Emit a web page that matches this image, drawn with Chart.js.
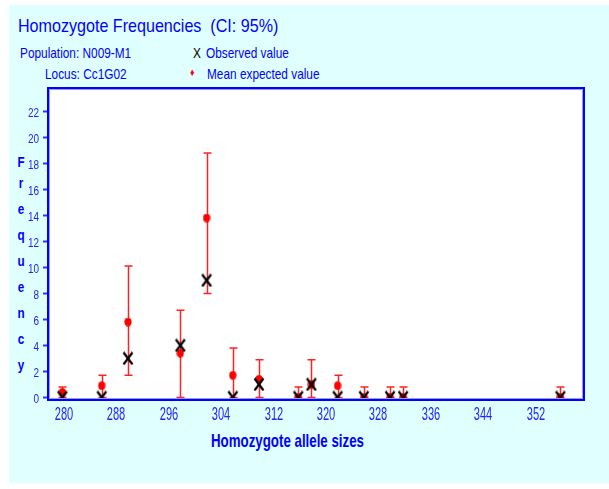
<!DOCTYPE html>
<html>
<head>
<meta charset="utf-8">
<script src="https://cdn.jsdelivr.net/npm/chart.js@4.4.1/dist/chart.umd.min.js"></script>
<style>
  html, body { margin: 0; padding: 0; background: #ffffff; }
  #page { position: relative; width: 609px; height: 489px; overflow: hidden; }
  #bg { position: absolute; left: 9px; top: 5px; right: 0; bottom: 6px; background: #e0ffff; }
  #myChart { position: absolute; left: 0; top: 0; }
  .txt { position: absolute; white-space: nowrap; color: #0000ff; line-height: 1;
         font-family: 'Liberation Sans', Arial, sans-serif; transform-origin: left top; }
  .ttl { left: 18px; top: 18px; font-size: 17.7px; transform: scaleX(0.91); }
  .sub { font-size: 14.8px; transform: scaleX(0.8); }
  .ylab { left: 15px; top: 153px; font-weight: bold; font-size: 15px; text-align: center; width: 12px;
          transform: scaleX(0.78); transform-origin: center top; }
  .ylab span { display: block; line-height: 26px; }
  .ylab span.first { line-height: 17px; }
  .xlab { left: 211px; top: 431px; font-weight: bold; font-size: 19px; transform: scaleX(0.7); }
  .xtick { font-size: 18.5px; width: 40px; text-align: center; transform: scaleX(0.6); transform-origin: center top; color: #2222ff; }
  .ytick { font-size: 13.3px; width: 30px; text-align: right; transform: scaleX(0.75); transform-origin: right top; color: #2222ff; }
</style>
</head>
<body>
<div id="page">
  <div id="bg"></div>
  <div class="txt ttl">Homozygote Frequencies&nbsp; (CI: 95%)</div>
  <div class="txt sub" style="left:20px; top:46px;">Population: N009-M1</div>
  <div class="txt sub" style="left:45px; top:67px;">Locus: Cc1G02</div>
  <div class="txt sub" style="left:193px; top:46px; color:#000;">X</div>
  <div class="txt sub" style="left:206px; top:46px;">Observed value</div>
  <div class="txt sub" style="left:190px; top:67px; color:#ff0000; font-size:11px;">&#9830;</div>
  <div class="txt sub" style="left:207px; top:67px;">Mean expected value</div>
  <div class="txt ylab" id="ylab"></div>
  <div class="txt xlab">Homozygote allele sizes</div>
  <canvas id="myChart" width="609" height="489"></canvas>
</div>
<script>
// allele sizes and values
const alleleSizes = [280, 286, 290, 298, 302, 306, 310, 316, 318, 322, 326, 330, 332, 356];
const observed = [0, 0, 3, 4, 9, 0, 1, 0, 1, 0, 0, 0, 0, 0];
const expected = [0.4, 0.9, 5.8, 3.4, 13.8, 1.7, 1.4, 0, 1.0, 0.9, 0, 0, 0, 0];
const upperCI = [0.8, 1.7, 10.1, 6.7, 18.8, 3.8, 2.9, 0.8, 2.9, 1.7, 0.8, 0.8, 0.8, 0.8];
const lowerCI = [0, 0, 1.7, 0, 8.0, 0, 0, 0, 0, 0, 0, 0, 0, 0];
const xTicks = [280, 288, 296, 304, 312, 320, 328, 336, 344, 352];
const yTicks = [0, 2, 4, 6, 8, 10, 12, 14, 16, 18, 20, 22];
const yTitle = 'Frequency';

const $page = document.getElementById('page');

// stacked letters of the y title
const $ylab = document.getElementById('ylab');
yTitle.split('').forEach((ch, i) => {
    const s = document.createElement('span');
    s.textContent = ch;
    if (i === 0) s.className = 'first';
    $ylab.appendChild(s);
});

function crossMarker() { // black X, a bit taller than wide
    const c = document.createElement('canvas');
    c.width = 12; c.height = 14;
    const g = c.getContext('2d');
    g.strokeStyle = '#000'; g.lineWidth = 2.2;
    g.beginPath();
    g.moveTo(1.5, 1); g.lineTo(10.5, 13);
    g.moveTo(10.5, 1); g.lineTo(1.5, 13);
    g.stroke();
    return c;
}

function dotMarker() {
    const c = document.createElement('canvas');
    c.width = 8; c.height = 9;
    const g = c.getContext('2d');
    g.fillStyle = '#ff0000';
    g.beginPath();
    g.ellipse(4, 4.5, 3.6, 4.2, 0, 0, Math.PI * 2);
    g.fill();
    return c;
}

const plotFrame = {
    id: 'plotFrame',
    beforeDraw(chart) {
        const {ctx, chartArea: a} = chart;
        ctx.save();
        ctx.fillStyle = '#ffffff';
        ctx.fillRect(a.left, a.top, a.right - a.left, a.bottom - a.top);
        ctx.restore();
    },
    beforeDatasetsDraw(chart) { // the red CI bars, under the markers
        const {ctx, chartArea: a, scales: {x, y}} = chart;
        ctx.save();
        ctx.beginPath();
        ctx.rect(a.left, a.top, a.right - a.left, a.bottom - a.top);
        ctx.clip();
        ctx.strokeStyle = '#ff2222';
        ctx.lineWidth = 1.5;
        for (let i = 0; i < alleleSizes.length; i++) {
            const px = Math.round(x.getPixelForValue(alleleSizes[i])) + 0.5;
            const top = y.getPixelForValue(upperCI[i]);
            const bot = Math.min(y.getPixelForValue(lowerCI[i]), a.bottom - 2);
            ctx.beginPath();
            ctx.moveTo(px, top); ctx.lineTo(px, bot);
            ctx.moveTo(px - 4, top); ctx.lineTo(px + 4, top);
            ctx.moveTo(px - 4, bot); ctx.lineTo(px + 4, bot);
            ctx.stroke();
        }
        ctx.restore();
    },
    afterDraw(chart) {
        const {ctx, chartArea: a} = chart;
        ctx.save();
        ctx.strokeStyle = '#0000ff';
        ctx.lineWidth = 2;
        ctx.strokeRect(a.left, a.top, a.right - a.left, a.bottom - a.top);
        ctx.strokeStyle = '#9999ff';
        ctx.lineWidth = 1;
        ctx.strokeRect(a.left + 1.5, a.top + 1.5, a.right - a.left - 3, a.bottom - a.top - 3);
        ctx.restore();
    }
};

const config = {
    type: 'scatter',
    data: {
        datasets: [{
            label: 'Observed value',
            data: alleleSizes.map((s, i) => ({x: s, y: observed[i]})),
            pointStyle: crossMarker(),
            order: 0,
            clip: 0
        }, {
            label: 'Mean expected value',
            data: alleleSizes.map((s, i) => ({x: s, y: expected[i]})),
            pointStyle: dotMarker(),
            order: 1,
            clip: 0
        }]
    },
    options: {
        responsive: false,
        animation: false,
        events: [],
        layout: {padding: {top: 88, right: 25, left: 0, bottom: 0}},
        plugins: {legend: {display: false}, tooltip: {enabled: false}},
        scales: {
            x: {
                type: 'linear',
                min: 277.8,
                max: 359.6,
                afterBuildTicks: (scale) => { scale.ticks = xTicks.map(v => ({value: v})); },
                afterFit: (scale) => { scale.height = 89; },
                grid: {display: false, drawTicks: false},
                border: {display: false},
                ticks: {display: false}
            },
            y: {
                type: 'linear',
                min: -0.2,
                max: 23.8,
                afterBuildTicks: (scale) => { scale.ticks = yTicks.map(v => ({value: v})); },
                afterFit: (scale) => { scale.width = 48; },
                grid: {drawOnChartArea: false, drawTicks: true, tickLength: 5, tickWidth: 2, tickColor: '#3333ff'},
                border: {display: false},
                ticks: {display: false}
            }
        }
    },
    plugins: [plotFrame]
};

const chart = new Chart(document.getElementById('myChart').getContext('2d'), config);

// tick labels as text, placed with the chart's own scales (narrow, tall font like the original)
function addLabel(cls, text, left, top) {
    const d = document.createElement('div');
    d.className = 'txt ' + cls;
    d.textContent = text;
    d.style.left = left + 'px';
    d.style.top = top + 'px';
    $page.appendChild(d);
}
xTicks.forEach(v => {
    const px = chart.scales.x.getPixelForValue(v);
    addLabel('xtick', String(v), px + 1.5 - 20, 404.5);
});
yTicks.forEach(v => {
    const py = chart.scales.y.getPixelForValue(v);
    addLabel('ytick', String(v), 39 - 30, py - 5.7);
});
</script>
</body>
</html>
